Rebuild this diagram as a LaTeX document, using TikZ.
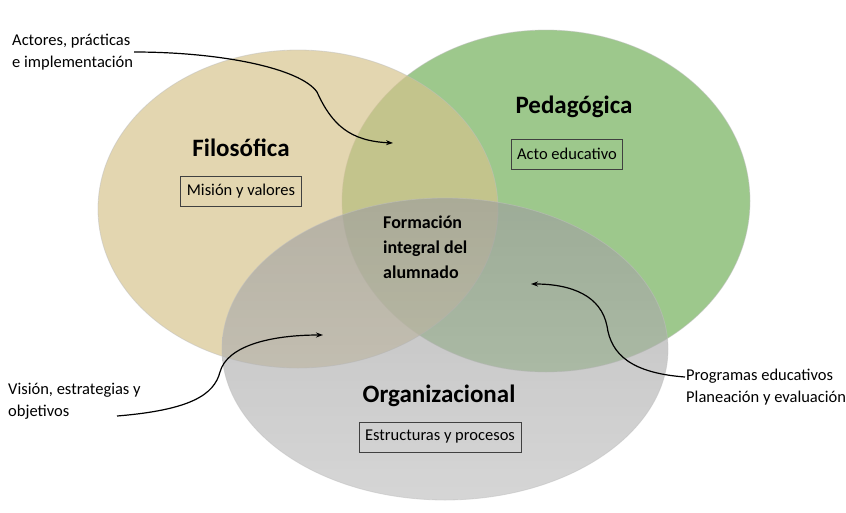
\documentclass[tikz,border=0pt]{standalone}
\usepackage{fontspec}
\setmainfont{Carlito}
\usetikzlibrary{arrows.meta}
\definecolor{cyel}{RGB}{214,195,140}
\definecolor{cgrn}{RGB}{157,200,140}
\definecolor{cgrytop}{RGB}{158,158,158}
\definecolor{cgrybot}{RGB}{192,192,192}
\tikzset{
  x=1pt,y=-1pt,
  circ/.style={line width=0.8pt,draw=black!25,draw opacity=0.5},
  title/.style={font=\fontsize{25}{30}\selectfont\bfseries,inner sep=0pt},
  tag/.style={draw=black!75,line width=0.8pt,font=\fontsize{16.5}{20}\selectfont,inner xsep=6pt,minimum height=30pt},
  lbl/.style={font=\fontsize{16.5}{22}\selectfont,align=left,inner sep=0pt},
  conn/.style={line width=1.2pt,-{Stealth[length=7pt,width=5pt]}}
}
\begin{document}
\begin{tikzpicture}
\useasboundingbox (0,0) rectangle (846,512);
\fill[white] (0,0) rectangle (846,512);
% circles
\fill[cgrn,circ] (546,201) ellipse [x radius=204,y radius=171];
\fill[cyel,fill opacity=0.68,circ] (298,209) ellipse [x radius=200,y radius=159];
\shade[top color=cgrytop,bottom color=cgrybot,fill opacity=0.65] (445,349) ellipse [x radius=223,y radius=151];
\draw[circ] (445,349) ellipse [x radius=223,y radius=151];
% titles
\node[title] (fil) at (241,148) {Filosófica};
\node[tag] (mis) at (241,191) {Misión y valores};
\node[title] (ped) at (574,107) {Pedagógica};
\node[tag] (act) at (567,154) {Acto educativo};
\node[title] (org) at (439,396) {Organizacional};
\node[tag] (est) at (440,437) {Estructuras y procesos};
\node[font=\fontsize{18}{25}\selectfont\bfseries,align=left,inner sep=0pt,anchor=west] (form) at (383,247) {Formación\\integral del\\alumnado};
% side labels
\node[lbl,anchor=north west] (actores) at (12,34) {Actores, prácticas\\e implementación};
\node[lbl,anchor=north west] (vision) at (8,383) {Visión, estrategias y\\objetivos};
\node[lbl,anchor=north west] (prog) at (686,369) {Programas educativos\\Planeación y evaluación};
% connector ends
\coordinate (a0) at (134,52);
\coordinate (a1) at (393,143);
\coordinate (v0) at (117,416);
\coordinate (v1) at (323,335);
\coordinate (p0) at (685,377);
\coordinate (p1) at (531,284);
\draw[conn] (a0) .. controls (220,52) and (300,68) .. (317,92) .. controls (332,125) and (350,141) .. (a1);
\draw[conn] (v0) .. controls (190,410) and (214,395) .. (220,372) .. controls (227,346) and (270,335) .. (v1);
\draw[conn] (p0) .. controls (632,373) and (611,355) .. (607,326) .. controls (601,296) and (572,284) .. (p1);
\end{tikzpicture}
\end{document}
